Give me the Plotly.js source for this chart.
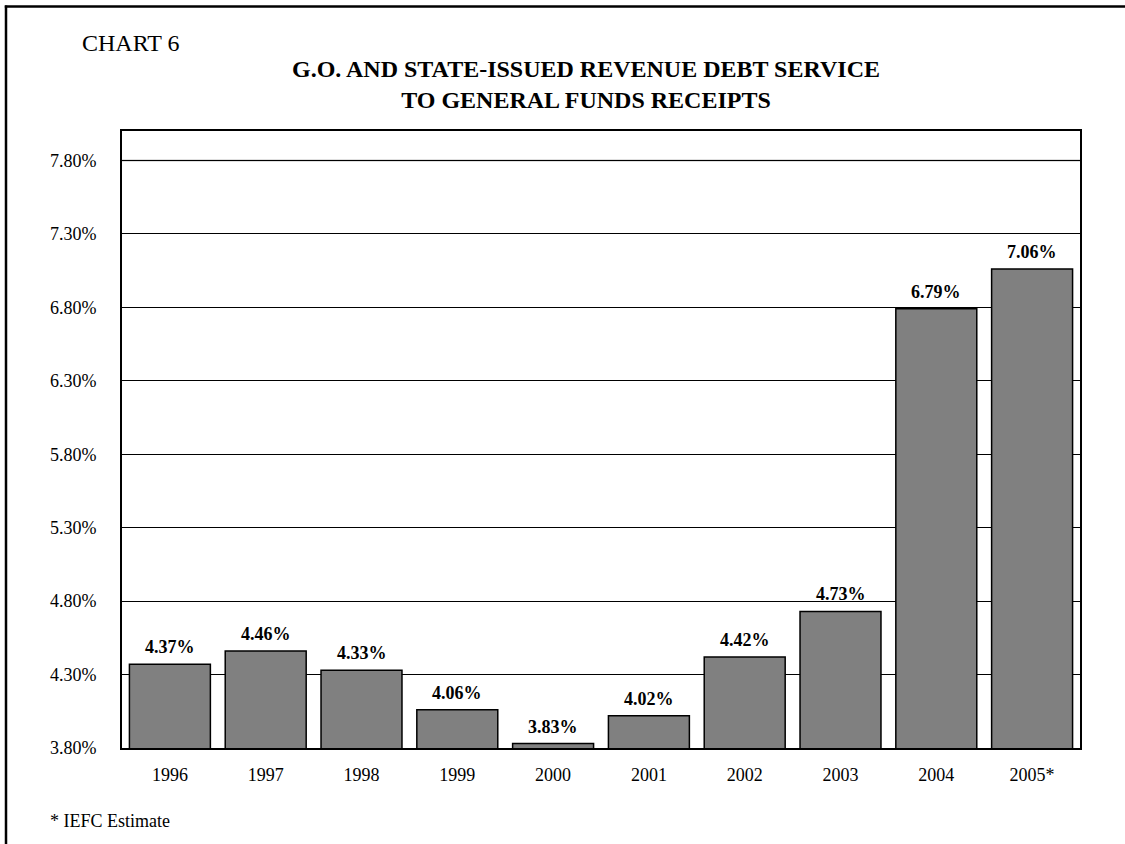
<!DOCTYPE html>
<html>
<head>
<meta charset="utf-8">
<script src="https://cdn.plot.ly/plotly-3.0.1.min.js"></script>
<style>html,body{margin:0;padding:0;background:#fff;}</style>
</head>
<body>
<div id="chart" style="width:1125px;height:844px;"></div>
<script>
const years = ["1996", "1997", "1998", "1999", "2000", "2001", "2002", "2003", "2004", "2005*"];
const ratios = [4.37, 4.46, 4.33, 4.06, 3.83, 4.02, 4.42, 4.73, 6.79, 7.06];
const chartLabel = "CHART 6";
const titleLines = ["G.O. AND STATE-ISSUED REVENUE DEBT SERVICE", "TO GENERAL FUNDS RECEIPTS"];
const footnote = "* IEFC Estimate";

const FONT = "Liberation Serif, Times New Roman, serif";

const L = 122, R = 1080, T = 131, B = 748, W = 1125, H = 844;
const px2x = p => (p - L) / (R - L);
const py2y = p => (B - p) / (B - T);

const trace = {
  type: "bar",
  x: years,
  y: ratios,
  marker: { color: "#808080", line: { color: "#000000", width: 1.5 } },
  cliponaxis: false,
  hoverinfo: "skip"
};

// value labels: x given as category index so numeric-looking names are not misread
const valueLabels = years.map((yr, i) => ({
  x: i, y: ratios[i], xref: "x", yref: "y",
  text: "<b>" + ratios[i].toFixed(2) + "%</b>",
  showarrow: false, xanchor: "center", yanchor: "bottom", yshift: 5,
  font: { family: FONT, size: 18, color: "#000000" }
}));

const layout = {
  width: W, height: H,
  margin: { l: L, r: W - R, t: T, b: H - B, pad: 0 },
  paper_bgcolor: "#ffffff",
  plot_bgcolor: "#ffffff",
  showlegend: false,
  bargap: 0.155,
  font: { family: FONT, color: "#000000" },
  title: {
    text: titleLines.join("<br>"),
    font: { family: FONT, size: 24, color: "#000000", weight: "bold" },
    x: 586 / W, xref: "container", xanchor: "center",
    y: 1 - 77 / H, yref: "container", yanchor: "top"
  },
  xaxis: {
    type: "category",
    categoryorder: "array", categoryarray: years,
    range: [-0.5, years.length - 0.5],
    showgrid: false,
    showline: true, linecolor: "#000000", linewidth: 2, mirror: true,
    ticks: "", ticklabelstandoff: 9,
    tickfont: { family: FONT, size: 18, color: "#000000" },
    zeroline: false
  },
  yaxis: {
    range: [3.8, 8.0],
    tick0: 3.8, dtick: 0.5,
    tickformat: ".2f", ticksuffix: "%",
    showgrid: true, gridcolor: "#000000", gridwidth: 1,
    showline: true, linecolor: "#000000", linewidth: 2, mirror: true,
    ticks: "", ticklabelstandoff: 20,
    tickfont: { family: FONT, size: 18, color: "#000000" },
    zeroline: false
  },
  shapes: [
    { type: "line", xref: "paper", yref: "y", x0: 0, x1: 1, y0: 7.8, y1: 7.8,
      line: { color: "#808080", width: 1.5 }, layer: "below" },
    { type: "line", xref: "paper", yref: "paper", x0: px2x(6), x1: px2x(6), y0: py2y(5.5), y1: py2y(860),
      line: { color: "#000000", width: 2.5 } },
    { type: "line", xref: "paper", yref: "paper", x0: px2x(4.8), x1: px2x(1140), y0: py2y(6.5), y1: py2y(6.5),
      line: { color: "#000000", width: 2.5 } }
  ],
  annotations: [
    { text: chartLabel, xref: "paper", yref: "paper", x: px2x(80), y: py2y(43),
      xanchor: "left", yanchor: "middle", showarrow: false,
      font: { family: FONT, size: 24, color: "#000000" } },
    { text: footnote, xref: "paper", yref: "paper", x: px2x(48), y: py2y(821),
      xanchor: "left", yanchor: "middle", showarrow: false,
      font: { family: FONT, size: 18, color: "#000000" } }
  ].concat(valueLabels)
};

Plotly.newPlot("chart", [trace], layout, { displayModeBar: false, staticPlot: true });
</script>
</body>
</html>
